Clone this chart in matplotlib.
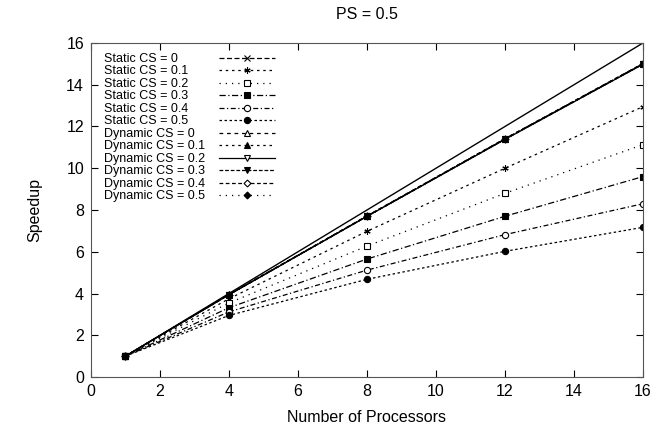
import matplotlib
matplotlib.use('Agg')
import matplotlib.pyplot as plt
from matplotlib.lines import Line2D

plt.rcParams['font.family'] = ['Liberation Sans', 'DejaVu Sans']

#-------------------------------------------------------------#
# Data
#-------------------------------------------------------------#
procs = [1, 4, 8, 12, 16]
ideal = [1, 4, 8, 12, 16]

static_cs0 = [1, 3.95, 7.70, 11.40, 15.00]
static_cs01 = [1, 3.75, 6.98, 10.00, 12.95]
static_cs02 = [1, 3.55, 6.27, 8.80, 11.13]
static_cs03 = [1, 3.32, 5.65, 7.70, 9.60]
static_cs04 = [1, 3.12, 5.12, 6.82, 8.30]
static_cs05 = [1, 2.95, 4.68, 6.02, 7.17]

dynamic_cs0 = [1, 3.96, 7.72, 11.42, 15.02]
dynamic_cs01 = [1, 3.95, 7.70, 11.40, 15.00]
dynamic_cs02 = [1, 3.94, 7.69, 11.38, 14.98]
dynamic_cs03 = [1, 3.95, 7.71, 11.41, 15.01]
dynamic_cs04 = [1, 3.94, 7.70, 11.39, 14.99]
dynamic_cs05 = [1, 3.95, 7.69, 11.40, 15.00]

labels = ['Static CS = 0', 'Static CS = 0.1', 'Static CS = 0.2',
          'Static CS = 0.3', 'Static CS = 0.4', 'Static CS = 0.5',
          'Dynamic CS = 0', 'Dynamic CS = 0.1', 'Dynamic CS = 0.2',
          'Dynamic CS = 0.3', 'Dynamic CS = 0.4', 'Dynamic CS = 0.5']
series = [static_cs0, static_cs01, static_cs02, static_cs03, static_cs04,
          static_cs05, dynamic_cs0, dynamic_cs01, dynamic_cs02,
          dynamic_cs03, dynamic_cs04, dynamic_cs05]

# (marker, filled, dash pattern)
styles = [('x', True, (4, 2)),
          ((6, 2, 0), True, (2, 3)),
          ('s', False, (1, 4)),
          ('s', True, (5, 2, 1, 2)),
          ('o', False, (4, 2, 1, 2)),
          ('o', True, (2, 2)),
          ('^', False, (3, 3)),
          ('^', True, (2, 3)),
          ('v', False, None),
          ('v', True, (3, 1.5)),
          ('D', False, (3, 2)),
          ('D', True, (1, 4))]

#-------------------------------------------------------------#
# Plotting
#-------------------------------------------------------------#
fig = plt.figure(figsize=(6.67, 4.32), dpi=100)
ax = fig.add_axes([0.1364, 0.1273, 0.8276, 0.7732])

ax.plot(procs, ideal, color='k', linewidth=1.0)

handles = []
for vals, lab, (mk, filled, dash) in zip(series, labels, styles):
    ms = 4.5 if mk != 'D' else 3.5
    line, = ax.plot(procs, vals, color='k', linewidth=0.9,
                    marker=mk, markersize=ms,
                    markerfacecolor='k' if filled else 'white',
                    markeredgecolor='k', markeredgewidth=0.8,
                    label=lab)
    if dash is None:
        line.set_linestyle('-')
    else:
        line.set_dashes(dash)
    handles.append(line)

ax.set_xlim(0, 16)
ax.set_ylim(0, 16)
ax.set_xticks(range(0, 17, 2))
ax.set_yticks(range(0, 17, 2))
ax.tick_params(direction='in', top=True, right=True, length=5,
               labelsize=11.5, pad=5)
for sp in ax.spines.values():
    sp.set_color('#555555')
ax.set_xlabel('Number of Processors', fontsize=11.5, labelpad=8)
ax.set_ylabel('Speedup', fontsize=11.5, labelpad=17)
ax.set_title('PS = 0.5', fontsize=11.5, pad=17)

# legend: text on the left (left aligned), samples on the right
blank = [Line2D([], [], linestyle='none') for _ in labels]
leg1 = ax.legend(blank, labels, loc='upper left', bbox_to_anchor=(0.005, 1.0),
                 frameon=False, fontsize=9, handlelength=0, handletextpad=0,
                 labelspacing=0.04, borderpad=0.3)
ax.add_artist(leg1)
ax.legend(handles, [' '] * len(handles), loc='upper left',
          bbox_to_anchor=(0.213, 1.0), frameon=False, fontsize=9,
          handlelength=4.5, handletextpad=0, labelspacing=0.04,
          borderpad=0.3)

plt.savefig('out.png', dpi=100)
